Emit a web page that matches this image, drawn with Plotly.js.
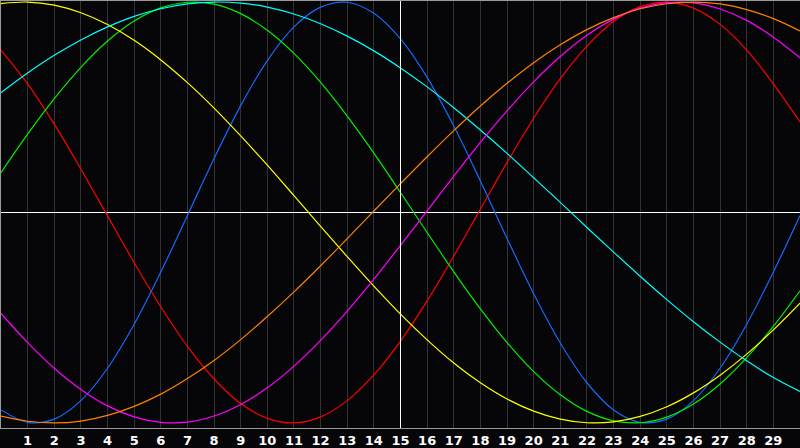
<!DOCTYPE html>
<html>
<head>
<meta charset="utf-8">
<script src="https://cdn.plot.ly/plotly-3.0.1.min.js"></script>
<style>
  html, body { margin: 0; padding: 0; background: #060608; }
  #chart { width: 800px; height: 448px; }
</style>
</head>
<body>
<div id="chart"></div>
<script>
// Day index along the chart (0..30) and tick labels (1..29)
const days = [0,1,2,3,4,5,6,7,8,9,10,11,12,13,14,15,16,17,18,19,20,21,22,23,24,25,26,27,28,29,30];
const tickDays = [1,2,3,4,5,6,7,8,9,10,11,12,13,14,15,16,17,18,19,20,21,22,23,24,25,26,27,28,29];
const tickLabels = ["1","2","3","4","5","6","7","8","9","10","11","12","13","14","15","16","17","18","19","20","21","22","23","24","25","26","27","28","29"];
const todayDay = 15;

// Cycle values (range -1..1)
const redSeries = [0.772,0.611,0.420,0.207,-0.016,-0.238,-0.448,-0.636,-0.791,-0.908,-0.978,-1.000,-0.971,-0.894,-0.772,-0.611,-0.420,-0.207,0.016,0.238,0.448,0.636,0.791,0.908,0.978,1.000,0.971,0.894,0.772,0.611,0.430];
const blueSeries = [-0.938,-0.997,-0.982,-0.894,-0.740,-0.531,-0.283,-0.014,0.257,0.508,0.722,0.882,0.976,0.999,0.947,0.825,0.642,0.411,0.150,-0.123,-0.386,-0.620,-0.809,-0.938,-0.997,-0.982,-0.894,-0.740,-0.531,-0.283,-0.014];
const greenSeries = [0.189,0.372,0.541,0.690,0.815,0.910,0.972,0.999,0.990,0.945,0.866,0.756,0.618,0.458,0.282,0.095,-0.095,-0.282,-0.458,-0.618,-0.756,-0.866,-0.945,-0.990,-0.999,-0.972,-0.910,-0.815,-0.690,-0.541,-0.372];
const yellowSeries = [0.993,1.000,0.985,0.949,0.893,0.818,0.725,0.617,0.496,0.364,0.225,0.080,-0.066,-0.210,-0.350,-0.483,-0.605,-0.715,-0.809,-0.886,-0.944,-0.982,-0.999,-0.995,-0.969,-0.923,-0.857,-0.773,-0.673,-0.558,-0.431];
const cyanSeries = [0.570,0.663,0.747,0.820,0.882,0.932,0.968,0.991,1.000,0.995,0.976,0.943,0.897,0.838,0.768,0.687,0.597,0.498,0.392,0.281,0.165,0.048,-0.071,-0.188,-0.303,-0.414,-0.519,-0.616,-0.705,-0.784,-0.850];
const magentaSeries = [-0.480,-0.618,-0.740,-0.841,-0.919,-0.971,-0.997,-0.996,-0.967,-0.912,-0.833,-0.730,-0.608,-0.469,-0.317,-0.156,0.008,0.173,0.333,0.483,0.621,0.741,0.842,0.919,0.971,0.997,0.996,0.967,0.913,0.833,0.735];
const orangeSeries = [-0.968,-0.992,-1.000,-0.991,-0.964,-0.921,-0.863,-0.789,-0.703,-0.604,-0.494,-0.377,-0.253,-0.124,0.007,0.137,0.265,0.389,0.506,0.614,0.712,0.797,0.869,0.926,0.968,0.992,1.000,0.991,0.964,0.921,0.863];

const seriesList = [
  {name: "red", values: redSeries, color: "#ff0000"},
  {name: "blue", values: blueSeries, color: "#1469ff"},
  {name: "green", values: greenSeries, color: "#00f000"},
  {name: "yellow", values: yellowSeries, color: "#ffff00"},
  {name: "cyan", values: cyanSeries, color: "#00ffff"},
  {name: "magenta", values: magentaSeries, color: "#ff00ff"},
  {name: "orange", values: orangeSeries, color: "#ff8000"}
];

const traces = seriesList.map(s => ({
  type: "scatter",
  mode: "lines",
  x: days,
  y: s.values,
  name: s.name,
  line: {color: s.color, width: 1.2, shape: "spline", smoothing: 1},
  hoverinfo: "skip"
}));

const layout = {
  width: 800,
  height: 448,
  margin: {l: 1, r: 0, t: 1, b: 20, pad: 0},
  paper_bgcolor: "#060608",
  plot_bgcolor: "#060608",
  showlegend: false,
  xaxis: {
    range: [0, 30],
    tickmode: "array",
    tickvals: tickDays,
    ticktext: tickLabels,
    ticks: "",
    showgrid: true,
    gridcolor: "#333333",
    gridwidth: 1,
    zeroline: false,
    showline: true,
    mirror: true,
    linecolor: "#9a9a9a",
    linewidth: 1,
    tickfont: {family: "DejaVu Sans", size: 13, color: "#ffffff", weight: "bold"},
    fixedrange: true
  },
  yaxis: {
    range: [-1.024, 1.005],
    showticklabels: false,
    ticks: "",
    showgrid: false,
    zeroline: true,
    zerolinecolor: "#ffffff",
    zerolinewidth: 1,
    showline: true,
    mirror: false,
    linecolor: "#9a9a9a",
    linewidth: 1,
    fixedrange: true
  },
  shapes: [{
    type: "line",
    xref: "x", yref: "paper",
    x0: todayDay, x1: todayDay, y0: 0, y1: 1,
    line: {color: "#ffffff", width: 1},
    layer: "above"
  }]
};

Plotly.newPlot("chart", traces, layout, {staticPlot: true, displayModeBar: false});
</script>
</body>
</html>
